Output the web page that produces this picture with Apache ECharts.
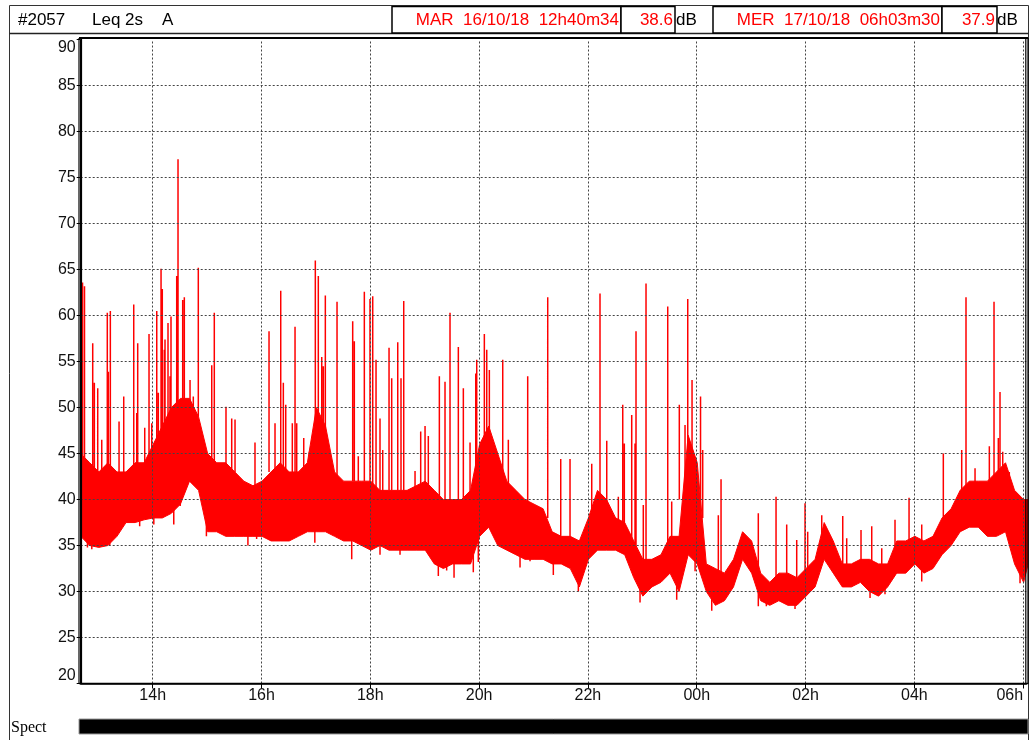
<!DOCTYPE html>
<html>
<head>
<meta charset="UTF-8">
<title>#2057 Leq 2s A</title>
<script src="https://cdn.jsdelivr.net/npm/echarts@6/dist/echarts.min.js"></script>
<style>
  html, body { margin: 0; padding: 0; background: #fff; }
  #main { width: 1029px; height: 740px; }
</style>
</head>
<body>
<div id="main"></div>
<script>
// hours counted from 16/10/18 00h (24 and over = 17/10)
var startHour = 12 + 40 / 60 + 34 / 3600;   // MAR 16/10/18 12h40m34
var endHour = 30 + 3 / 60 + 30 / 3600;      // MER 17/10/18 06h03m30
var tickHours = [14, 16, 18, 20, 22, 24, 26, 28, 30];
var gridLevels = [25, 30, 35, 40, 45, 50, 55, 60, 65, 70, 75, 80, 85];

// dense part of the trace, one low/high pair every 10 minutes from the start
var bandStep = 10 / 60;
var bandLow = [36, 35, 34.8, 35, 36, 37.5, 37.5, 37.8, 38, 38, 38.5, 39.5, 42, 41, 36.5, 36.5, 36, 36, 36, 36,
  36, 35.5, 35.5, 35.5, 36, 36.5, 36.5, 36.5, 36, 35.5, 35.5, 35, 34.5, 35, 34.5, 34.5, 34.5, 34.5, 34.5, 33,
  32.5, 33, 33, 33, 36, 37, 35, 34.5, 34, 33.5, 33.5, 33.5, 33, 33, 32.5, 30.5, 33.5, 34.5, 34.5, 34.5,
  34, 31.5, 29.5, 30.5, 31, 32, 30, 34, 33, 30, 28.5, 29, 30.5, 33.5, 32, 29, 28.5, 29, 28.5, 28.5,
  29.5, 30.5, 33.5, 32, 30.5, 30.5, 31, 30, 29.5, 30.5, 32, 32, 33, 32, 32.5, 34, 35, 36.5, 37, 37,
  36, 36, 36.5, 33, 31, 35];
var bandHigh = [45, 44, 43, 44, 43, 43, 44, 44, 46, 48, 50, 51, 51, 49, 45, 44, 44, 43, 42, 41.5,
  42, 43, 44, 43, 43, 44, 50, 48, 43, 42, 42, 42, 42, 41, 41, 41, 41, 41.5, 42, 41,
  40, 40, 40, 41, 46, 48, 45, 42, 41, 40, 39.5, 39, 36.5, 36, 36, 35.5, 38, 41, 40, 38,
  37.5, 35.5, 33.5, 33.5, 34, 36, 36, 47, 44, 33, 32.5, 32, 33.5, 36.5, 35.5, 32, 31, 32, 32, 31.5,
  32.5, 33.5, 37.5, 35.5, 33, 33, 33.5, 33.5, 33, 33, 35.5, 35.5, 36, 35.5, 36, 38, 39, 41, 42, 42,
  42, 43, 44, 41, 40, 40];

// isolated peaks: time (h), level they rise from, peak level (dB)
var spikeHour = [12.710, 12.746, 12.897, 12.927, 12.989, 13.063, 13.165, 13.184, 13.221, 13.381,
  13.467, 13.651, 13.706, 13.724, 13.853, 13.932, 13.982, 14.074, 14.103, 14.153,
  14.176, 14.213, 14.226, 14.281, 14.318, 14.336, 14.441, 14.465, 14.551, 14.581,
  14.686, 14.746, 14.838, 15.085, 15.132, 15.347, 15.452, 15.513, 15.880, 16.138,
  16.248, 16.353, 16.401, 16.445, 16.566, 16.616, 16.647, 16.776, 16.879, 16.989,
  17.044, 17.107, 17.136, 17.173, 17.388, 17.676, 17.706, 17.779, 17.890, 17.994,
  18.044, 18.105, 18.178, 18.228, 18.344, 18.393, 18.504, 18.564, 18.614, 18.822,
  18.926, 19.006, 19.066, 19.269, 19.373, 19.465, 19.618, 19.710, 19.833, 19.938,
  19.956, 20.096, 20.140, 20.188, 20.434, 20.537, 20.893, 21.261, 21.500, 21.671,
  22.070, 22.222, 22.346, 22.559, 22.640, 22.669, 22.805, 22.866, 22.884, 23.018,
  23.068, 23.467, 23.540, 23.680, 23.785, 23.835, 23.914, 24.070, 24.110, 24.397,
  24.447, 25.132, 25.458, 25.654, 25.838, 25.991, 26.040, 26.298, 26.684, 26.757,
  27.020, 27.217, 27.401, 27.645, 27.903, 28.136, 28.533, 28.871, 28.950, 29.116,
  29.379, 29.465, 29.544, 29.575, 29.625, 29.746];
var spikeBase = [40, 40, 42, 43, 43, 42, 42, 43, 42, 42,
  42, 42, 43, 42, 43, 44, 44, 45, 46, 46,
  46, 46, 46, 47, 48, 48, 50, 50, 50, 50,
  50, 49, 49, 44, 44, 43, 43, 43, 41, 43,
  43, 43, 43, 43, 43, 43, 43, 43, 43, 46,
  46, 46, 46, 45, 42, 42, 42, 42, 42, 41,
  41, 40, 40, 40, 41, 41, 41, 41, 41, 41,
  41, 41, 41, 39, 39, 39, 39, 39, 40, 40,
  40, 46, 46, 46, 40, 40, 38, 38, 35, 35,
  38, 40, 38, 36, 36, 36, 35, 35, 35, 33,
  33, 34, 34, 40, 40, 42, 42, 38, 38, 31,
  31, 30, 30, 30, 30, 31, 31, 34, 32, 32,
  32, 32, 32, 33, 34, 34, 36, 38, 40, 40,
  40, 42, 42, 42, 42, 40];
var spikePeak = [63.6, 63.2, 57.0, 52.7, 52.1, 46.5, 60.3, 53.9, 60.5, 48.5,
  51.2, 61.2, 49.4, 57.0, 47.8, 58.0, 48.3, 60.5, 51.6, 65.1,
  62.9, 56.3, 57.4, 59.2, 53.4, 59.9, 64.3, 77.0, 61.7, 62.0,
  53.0, 51.2, 65.2, 54.6, 60.3, 50.1, 48.8, 48.7, 46.2, 58.3,
  48.3, 62.7, 52.7, 50.3, 48.3, 58.8, 48.3, 46.7, 45.2, 66.0,
  64.3, 55.5, 54.5, 62.2, 61.5, 59.4, 57.2, 44.7, 62.6, 61.8,
  62.1, 55.2, 48.8, 45.4, 56.5, 53.2, 57.1, 53.2, 61.6, 43.1,
  47.4, 48.0, 46.9, 53.4, 52.8, 60.3, 56.6, 52.1, 46.2, 53.7,
  55.2, 58.0, 56.3, 54.1, 55.2, 46.5, 53.4, 62.0, 44.4, 44.4,
  43.9, 62.4, 46.4, 40.3, 50.3, 46.1, 49.2, 46.1, 58.3, 39.4,
  63.5, 61.0, 39.8, 50.3, 48.1, 61.8, 53.0, 51.2, 45.4, 38.3,
  42.2, 38.5, 40.3, 37.3, 35.6, 39.6, 36.5, 38.3, 38.2, 35.8,
  36.7, 37.1, 34.7, 37.8, 40.2, 37.3, 45.0, 45.4, 62.0, 43.4,
  45.8, 61.5, 46.7, 51.7, 45.2, 43.0];

// short drops below the dense trace: time (h), level they fall from, lowest level (dB)
var dipHour = [12.800, 12.880, 13.090, 13.210, 13.760, 14.020, 14.387, 14.505, 14.987, 15.750,
  15.910, 16.210, 16.980, 17.658, 18.178, 18.546, 19.250, 19.403, 19.539, 19.893,
  19.985, 20.752, 20.936, 21.364, 21.824, 22.958, 23.632, 23.970, 24.276, 25.132,
  25.280, 25.807, 27.186, 27.461, 28.136, 29.943];
var dipFrom = [37, 37, 37, 37, 39, 39, 40, 41, 38, 37,
  37, 37, 38, 36, 36, 36, 34, 34, 34, 34,
  36, 35, 35, 34, 32, 31, 32, 34, 30, 31,
  30, 30, 31, 31, 33, 34];
var dipLow = [34.8, 34.6, 35.3, 35.0, 37.1, 37.3, 37.3, 39.3, 36.0, 35.0,
  35.7, 35.5, 35.3, 33.5, 34.0, 34.0, 31.7, 32.3, 31.5, 32.1,
  33.2, 32.6, 33.3, 31.8, 30.0, 28.8, 29.1, 32.2, 27.9, 28.4,
  28.4, 28.1, 29.3, 29.7, 31.1, 30.9];

var red = '#ff0000';
var sans = '"Liberation Sans", Arial, sans-serif';

var bandLowData = bandLow.map(function (v, i) { return [startHour + i * bandStep, v]; });
var bandHighData = bandHigh.map(function (v, i) { return [startHour + i * bandStep, v]; });
var spikeData = [];
spikeHour.forEach(function (h, i) {
  spikeData.push([h, spikeBase[i]], [h, spikePeak[i]], [h, null]);
});
dipHour.forEach(function (h, i) {
  spikeData.push([h, dipFrom[i]], [h, dipLow[i]], [h, null]);
});

var gridMarks = gridLevels.map(function (v) { return { yAxis: v }; })
  .concat(tickHours.map(function (h) { return { xAxis: h }; }));

function hourLabel(v) {
  var h = v % 24;
  return (h < 10 ? '0' : '') + h + 'h';
}

var myChart = echarts.init(document.getElementById('main'));
var option = {
  animation: false,
  grid: { left: 80.7, right: 2.7, top: 39.7, bottom: 56.5, outerBoundsMode: 'none', containLabel: false },
  xAxis: {
    type: 'value',
    min: startHour,
    max: endHour,
    z: 10,
    axisLine: { show: true, lineStyle: { color: '#000', width: 1.5 } },
    axisTick: { show: true, customValues: tickHours, length: 5, lineStyle: { color: '#000' } },
    axisLabel: {
      customValues: tickHours, formatter: hourLabel, margin: 4, color: '#111', fontSize: 16, fontFamily: sans,
      alignMaxLabel: 'right'
    },
    splitLine: { show: false }
  },
  yAxis: {
    type: 'value',
    min: 20,
    max: 90,
    interval: 5,
    z: 10,
    axisLine: { show: true, lineStyle: { color: '#000', width: 1 } },
    axisTick: { show: true, length: 4, lineStyle: { color: '#000' } },
    axisLabel: {
      margin: 5, color: '#111', fontSize: 16, fontFamily: sans,
      verticalAlignMinLabel: 'bottom', verticalAlignMaxLabel: 'top'
    },
    splitLine: { show: false }
  },
  graphic: [
    { type: 'rect', z: 100, shape: { x: 9.5, y: 5.5, width: 1019, height: 760 }, style: { fill: null, stroke: '#333', lineWidth: 1 } },
    { type: 'line', z: 100, shape: { x1: 9.5, y1: 33.5, x2: 1028.5, y2: 33.5 }, style: { stroke: '#222', lineWidth: 1.5 } },
    { type: 'text', z: 100, x: 18, y: 20.5, style: { text: '#2057', font: '17px ' + sans, fill: '#000', verticalAlign: 'middle' } },
    { type: 'text', z: 100, x: 92, y: 20.5, style: { text: 'Leq 2s', font: '17px ' + sans, fill: '#000', verticalAlign: 'middle' } },
    { type: 'text', z: 100, x: 162, y: 20.5, style: { text: 'A', font: '17px ' + sans, fill: '#000', verticalAlign: 'middle' } },
    { type: 'rect', z: 100, shape: { x: 392, y: 6.5, width: 229, height: 26.5 }, style: { fill: '#fff', stroke: '#000', lineWidth: 1.5 } },
    { type: 'rect', z: 100, shape: { x: 621, y: 6.5, width: 54, height: 26.5 }, style: { fill: '#fff', stroke: '#000', lineWidth: 1.5 } },
    { type: 'rect', z: 100, shape: { x: 713, y: 6.5, width: 229, height: 26.5 }, style: { fill: '#fff', stroke: '#000', lineWidth: 1.5 } },
    { type: 'rect', z: 100, shape: { x: 942, y: 6.5, width: 55, height: 26.5 }, style: { fill: '#fff', stroke: '#000', lineWidth: 1.5 } },
    { type: 'text', z: 101, x: 619, y: 20.5, style: { text: 'MAR  16/10/18  12h40m34', font: '17px ' + sans, fill: red, align: 'right', verticalAlign: 'middle' } },
    { type: 'text', z: 101, x: 673, y: 20.5, style: { text: '38.6', font: '17px ' + sans, fill: red, align: 'right', verticalAlign: 'middle' } },
    { type: 'text', z: 101, x: 676, y: 20.5, style: { text: 'dB', font: '17px ' + sans, fill: '#000', verticalAlign: 'middle' } },
    { type: 'text', z: 101, x: 940, y: 20.5, style: { text: 'MER  17/10/18  06h03m30', font: '17px ' + sans, fill: red, align: 'right', verticalAlign: 'middle' } },
    { type: 'text', z: 101, x: 995, y: 20.5, style: { text: '37.9', font: '17px ' + sans, fill: red, align: 'right', verticalAlign: 'middle' } },
    { type: 'text', z: 101, x: 997, y: 20.5, style: { text: 'dB', font: '17px ' + sans, fill: '#000', verticalAlign: 'middle' } },
    // plot frame (double borders left and right)
    { type: 'line', z: 100, shape: { x1: 79, y1: 38, x2: 1028, y2: 38 }, style: { stroke: '#000', lineWidth: 2 } },
    { type: 'line', z: 100, shape: { x1: 79, y1: 38, x2: 79, y2: 684 }, style: { stroke: '#000', lineWidth: 1.2 } },
    { type: 'line', z: 100, shape: { x1: 81.5, y1: 38, x2: 81.5, y2: 684 }, style: { stroke: '#000', lineWidth: 1.2 } },
    { type: 'line', z: 100, shape: { x1: 1025.8, y1: 38, x2: 1025.8, y2: 684 }, style: { stroke: '#000', lineWidth: 1.2 } },
    { type: 'line', z: 100, shape: { x1: 1028, y1: 38, x2: 1028, y2: 684 }, style: { stroke: '#000', lineWidth: 1.2 } },
    { type: 'line', z: 100, shape: { x1: 79, y1: 683.5, x2: 1028, y2: 683.5 }, style: { stroke: '#000', lineWidth: 1.5 } },
    // spectrum strip
    { type: 'text', z: 100, x: 11, y: 728, style: { text: 'Spect', font: '16px "Liberation Serif", "Times New Roman", serif', fill: '#000', verticalAlign: 'middle' } },
    { type: 'rect', z: 100, shape: { x: 79, y: 719, width: 949, height: 15 }, style: { fill: '#000', stroke: '#999', lineWidth: 1 } }
  ],
  series: [
    {
      // upper edge of the dense trace, filled down to the axis
      name: 'high',
      type: 'line',
      data: bandHighData,
      showSymbol: false,
      z: 2,
      lineStyle: { color: red, width: 1 },
      areaStyle: { color: red, opacity: 1, origin: 'start' }
    },
    {
      // lower edge, blanks everything under it
      name: 'low',
      type: 'line',
      data: bandLowData,
      showSymbol: false,
      z: 3,
      lineStyle: { color: red, width: 1 },
      areaStyle: { color: '#fff', opacity: 1, origin: 'start' }
    },
    {
      name: 'peaks',
      type: 'line',
      data: spikeData,
      showSymbol: false,
      connectNulls: false,
      z: 4,
      lineStyle: { color: red, width: 1.5 }
    },
    {
      name: 'grid',
      type: 'line',
      data: [],
      z: 6,
      silent: true,
      markLine: {
        silent: true,
        symbol: 'none',
        animation: false,
        label: { show: false },
        lineStyle: { color: '#444', type: [2, 2], width: 1 },
        data: gridMarks
      }
    }
  ]
};
myChart.setOption(option);
</script>
</body>
</html>
